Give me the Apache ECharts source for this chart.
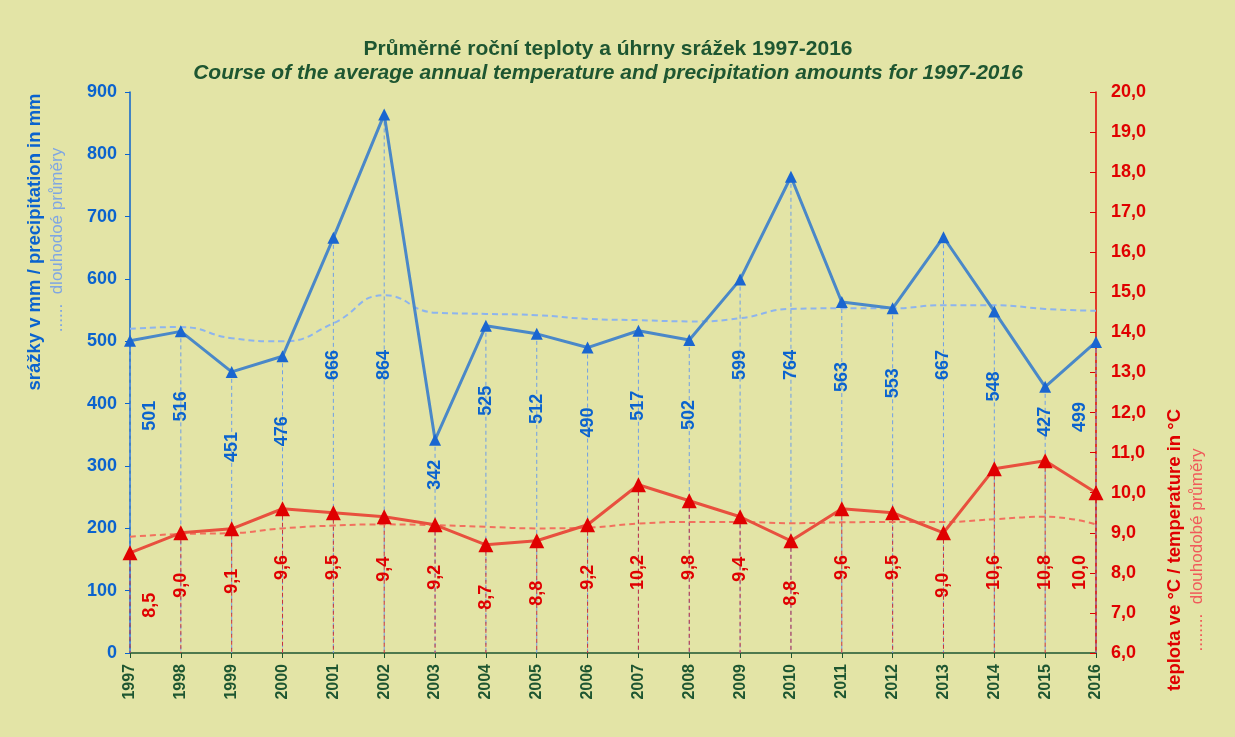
<!DOCTYPE html>
<html>
<head>
<meta charset="utf-8">
<script src="https://cdn.jsdelivr.net/npm/echarts@6/dist/echarts.min.js"></script>
<style>
  html, body { margin: 0; padding: 0; background: #E3E4A6; }
  #chart { width: 1235px; height: 737px; }
</style>
</head>
<body>
<div id="chart"></div>
<script>
var years = ['1997','1998','1999','2000','2001','2002','2003','2004','2005','2006',
             '2007','2008','2009','2010','2011','2012','2013','2014','2015','2016'];
// srážky v mm
var precip = [501, 516, 451, 476, 666, 864, 342, 525, 512, 490,
              517, 502, 599, 764, 563, 553, 667, 548, 427, 499];
// dlouhodobé průměry srážek
var precipLong = [520, 523, 505, 500, 529, 574, 546, 544, 542, 536,
                  534, 532, 537, 552, 553, 553, 558, 558, 552, 549];
// teplota ve °C
var temp = [8.5, 9.0, 9.1, 9.6, 9.5, 9.4, 9.2, 8.7, 8.8, 9.2,
            10.2, 9.8, 9.4, 8.8, 9.6, 9.5, 9.0, 10.6, 10.8, 10.0];
// dlouhodobé průměry teplot
var tempLong = [8.90, 8.97, 8.99, 9.11, 9.18, 9.21, 9.19, 9.15, 9.11, 9.13,
                9.23, 9.27, 9.27, 9.24, 9.26, 9.27, 9.27, 9.34, 9.40, 9.21];

var FONT = '"Liberation Sans", Arial, sans-serif';
var GREEN = '#1E5631';
var BLUE = '#0B63CE';
var RED = '#E00000';

function comma(v) { return v.toFixed(1).replace('.', ','); }

// svislé čárkované spojnice od bodu k ose
function dropLines(axisIndex, values, base, color, z) {
    return {
        type: 'custom',
        xAxisIndex: 0,
        yAxisIndex: axisIndex,
        silent: true,
        z: z,
        renderItem: function (params, api) {
            var a = api.coord([api.value(0), api.value(1)]);
            var b = api.coord([api.value(0), base]);
            return {
                type: 'line',
                shape: { x1: a[0], y1: a[1], x2: b[0], y2: b[1] },
                style: { stroke: color, lineWidth: 1, lineDash: [4, 3] }
            };
        },
        data: values.map(function (v, i) { return [i, v]; })
    };
}

// svisle otočené popisky pod body
function valueLabels(axisIndex, values, fmt, color, gap, minTop, maxTop, nearGap) {
    return {
        type: 'custom',
        xAxisIndex: 0,
        yAxisIndex: axisIndex,
        silent: true,
        z: 10,
        renderItem: function (params, api) {
            var i = api.value(0);
            var p = api.coord([i, api.value(1)]);
            var top = Math.max(p[1] + gap, minTop);
            if (top > maxTop) top = p[1] + nearGap;
            var cx = p[0];
            if (i === 0) cx += 20;
            if (i === years.length - 1) cx -= 16;
            return {
                type: 'text',
                x: cx,
                y: top,
                rotation: Math.PI / 2,
                style: {
                    text: fmt(api.value(1)),
                    fill: color,
                    font: 'bold 18px ' + FONT,
                    align: 'right',
                    verticalAlign: 'middle'
                }
            };
        },
        data: values.map(function (v, i) { return [i, v]; })
    };
}

var chart = echarts.init(document.getElementById('chart'));

var option = {
    backgroundColor: '#E3E4A6',
    animation: false,
    textStyle: { fontFamily: FONT },
    title: [
        {
            text: 'Průměrné roční teploty a úhrny srážek 1997-2016',
            left: 603, textAlign: 'center', top: 34,
            textStyle: { fontFamily: FONT, fontSize: 21, fontWeight: 'bold', color: GREEN }
        },
        {
            text: 'Course of the average annual temperature and precipitation amounts for 1997-2016',
            left: 603, textAlign: 'center', top: 58,
            textStyle: { fontFamily: FONT, fontSize: 21, fontWeight: 'bold', fontStyle: 'italic', color: GREEN }
        }
    ],
    grid: { left: 130, right: 139, top: 92, bottom: 84 },
    xAxis: {
        type: 'category',
        data: years,
        boundaryGap: false,
        axisLine: { lineStyle: { color: GREEN, width: 1.5 } },
        axisTick: { show: true, length: 5, lineStyle: { color: GREEN } },
        axisLabel: { rotate: 90, color: GREEN, fontSize: 16, fontWeight: 'bold', fontFamily: FONT, margin: 11 },
        splitLine: { show: false }
    },
    yAxis: [
        {
            type: 'value',
            min: 0, max: 900, interval: 100,
            position: 'left',
            axisLine: { show: true, lineStyle: { color: BLUE, width: 1.5 } },
            axisTick: { show: true, length: 5, lineStyle: { color: BLUE } },
            axisLabel: { color: BLUE, fontSize: 18, fontWeight: 'bold', fontFamily: FONT, margin: 13 },
            splitLine: { show: false }
        },
        {
            type: 'value',
            min: 6, max: 20, interval: 1,
            position: 'right',
            axisLine: { show: true, lineStyle: { color: RED, width: 1.5 } },
            axisTick: { show: true, inside: true, length: 6, lineStyle: { color: RED } },
            axisLabel: { color: RED, fontSize: 18, fontWeight: 'bold', fontFamily: FONT, margin: 15, formatter: comma },
            splitLine: { show: false }
        }
    ],
    graphic: [
        { type: 'text', x: 35, y: 242, rotation: Math.PI / 2,
          style: { text: 'srážky v mm / precipitation in mm', fill: BLUE, font: 'bold 18.5px ' + FONT, align: 'center', verticalAlign: 'middle' } },
        { type: 'text', x: 57, y: 240, rotation: Math.PI / 2,
          style: { text: '......  dlouhodoé průměry', fill: '#7FA6E2', font: '17px ' + FONT, align: 'center', verticalAlign: 'middle' } },
        { type: 'text', x: 1175, y: 550, rotation: Math.PI / 2,
          style: { text: 'teplota ve °C / temperature in °C', fill: RED, font: 'bold 18.5px ' + FONT, align: 'center', verticalAlign: 'middle' } },
        { type: 'text', x: 1197, y: 550, rotation: Math.PI / 2,
          style: { text: '........  dlouhodobé průměry', fill: '#F05A5A', font: '17px ' + FONT, align: 'center', verticalAlign: 'middle' } }
    ],
    series: [
        dropLines(0, precip, 0, '#6F9FE6', 1),
        dropLines(1, temp, 6, '#C8303C', 2),
        {
            name: 'dlouhodobé průměry srážek',
            type: 'line',
            yAxisIndex: 0,
            data: precipLong,
            smooth: 0.5,
            symbol: 'none',
            z: 3,
            lineStyle: { color: '#8DB4EE', width: 2, type: [6, 4] }
        },
        {
            name: 'dlouhodobé průměry teplot',
            type: 'line',
            yAxisIndex: 1,
            data: tempLong,
            smooth: 0.5,
            symbol: 'none',
            z: 3,
            lineStyle: { color: '#F2705E', width: 2, type: [6, 4] }
        },
        {
            name: 'srážky',
            type: 'line',
            yAxisIndex: 0,
            data: precip,
            symbol: 'triangle',
            symbolSize: 12,
            z: 5,
            lineStyle: { color: '#4A88C8', width: 3 },
            itemStyle: { color: '#1A66D0' }
        },
        {
            name: 'teplota',
            type: 'line',
            yAxisIndex: 1,
            data: temp,
            symbol: 'triangle',
            symbolSize: 15,
            z: 6,
            lineStyle: { color: '#E8503E', width: 3 },
            itemStyle: { color: '#E00000' }
        },
        valueLabels(0, precip, function (v) { return String(v); }, BLUE, 60, 350, 440, 20),
        valueLabels(1, temp, comma, RED, 40, 555, 640, 40)
    ]
};

chart.setOption(option);
</script>
</body>
</html>
